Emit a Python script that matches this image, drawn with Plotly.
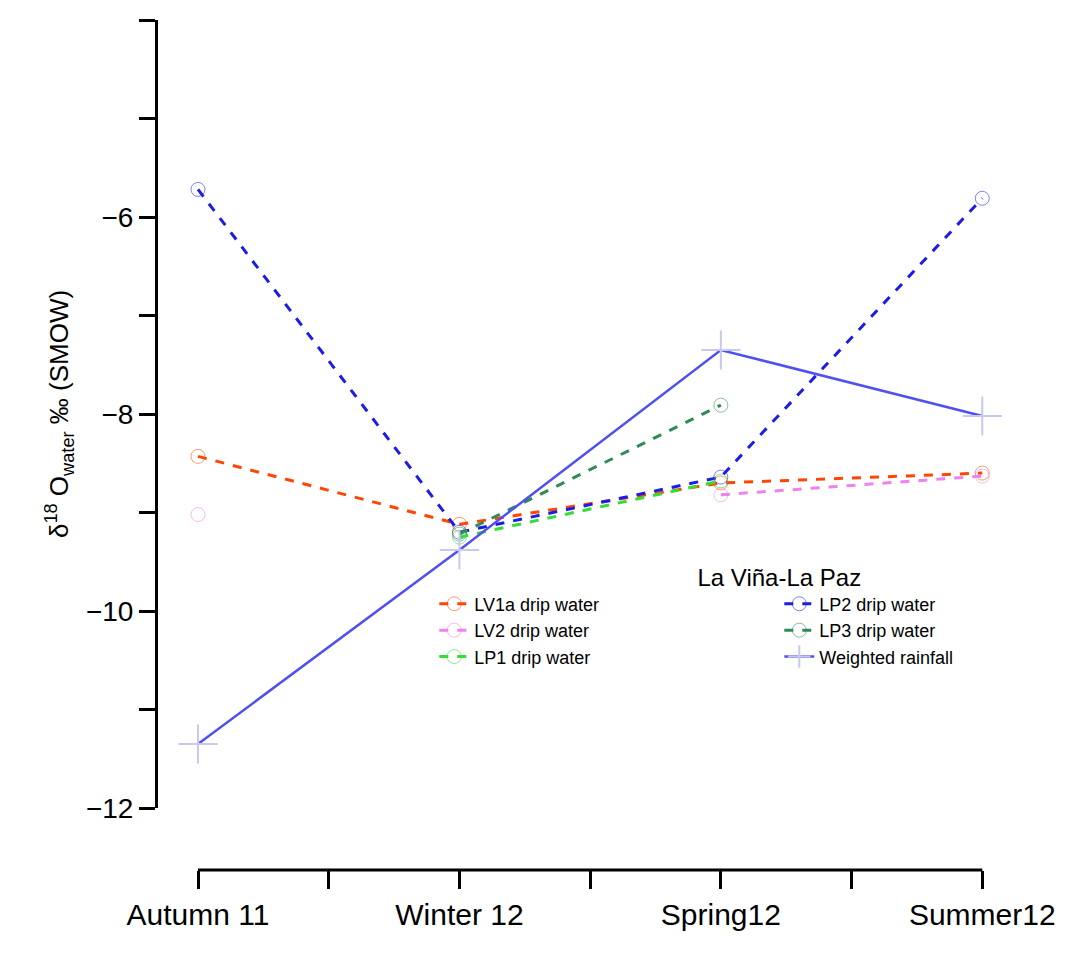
import plotly.graph_objects as go

seasons = ["Autumn 11", "Winter 12", "Spring12", "Summer12"]
xpos = [0, 1, 2, 3]

lv1a = [-8.43, -9.12, -8.70, -8.60]
lv2 = [-9.02, None, -8.82, -8.63]
lp1 = [None, -9.25, -8.68, None]
lp2 = [-5.72, -9.20, -8.64, -5.81]
lp3 = [None, -9.22, -7.91, None]
rain = [-11.35, -9.38, -7.35, -8.02]

fig = go.Figure()

def drip(name, vals, color):
    fig.add_trace(go.Scatter(
        x=xpos, y=vals, name=name, mode="lines+markers",
        line=dict(color=color, width=3, dash="dash"),
        marker=dict(symbol="circle-open", size=14, color=color, opacity=0.55, line=dict(width=1)),
    ))

# order arranged so the horizontal legend fills two columns row by row
drip("LV1a drip water", lv1a, "#ff4500")
drip("LP2 drip water", lp2, "#1c1ce8")
drip("LV2 drip water", lv2, "#ee82ee")
drip("LP3 drip water", lp3, "#2e8b57")
drip("LP1 drip water", lp1, "#33dd33")
fig.add_trace(go.Scatter(
    x=xpos, y=rain, name="Weighted rainfall", mode="lines+markers",
    line=dict(color="#5050f0", width=2.5),
    marker=dict(symbol="cross-thin-open", size=28, color="#c8c8f0", line=dict(width=2, color="#c8c8f0")),
))

XPOS_PAPER = 0.0205

# x axis line spanning only the categories
fig.add_shape(type="line", xref="x", yref="paper", x0=0, x1=3, y0=XPOS_PAPER, y1=XPOS_PAPER,
              line=dict(color="black", width=3))

fig.update_layout(
    width=1071, height=955,
    paper_bgcolor="white", plot_bgcolor="white",
    margin=dict(l=150, r=0, t=2, b=75, autoexpand=False),
    font=dict(family="Liberation Sans, Arial", color="black"),
    showlegend=True,
    legend=dict(
        title=dict(text="La Viña-La Paz", side="top center", font=dict(size=24)),
        orientation="h", entrywidth=300, entrywidthmode="pixels",
        x=0.30, y=0.38, xanchor="left", yanchor="top",
        font=dict(size=18), bgcolor="rgba(0,0,0,0)",
    ),
    xaxis=dict(
        range=[-0.153, 3.37], anchor="free", position=XPOS_PAPER, automargin=False,
        tickvals=[0, 0.5, 1, 1.5, 2, 2.5, 3],
        ticktext=["Autumn 11", "", "Winter 12", "", "Spring12", "", "Summer12"],
        ticks="outside", ticklen=18, tickwidth=3, tickcolor="black",
        showline=False, showgrid=False, zeroline=False, tickfont=dict(size=30),
    ),
    yaxis=dict(
        range=[-12, -4], domain=[0.0911, 0.9886], automargin=False,
        tickvals=[-12, -11, -10, -9, -8, -7, -6, -5, -4],
        ticktext=["\u221212", "", "\u221210", "", "\u22128", "", "\u22126", "", "\u22124"],
        ticks="outside", ticklen=16, tickwidth=3, tickcolor="black",
        showline=True, linewidth=3, linecolor="black",
        showgrid=False, zeroline=False, tickfont=dict(size=28),
        title=dict(text="\u03b4<sup>18</sup> O<sub>water</sub> \u2030 (SMOW)", font=dict(size=26), standoff=10),
    ),
)

fig.write_html("out.html")
